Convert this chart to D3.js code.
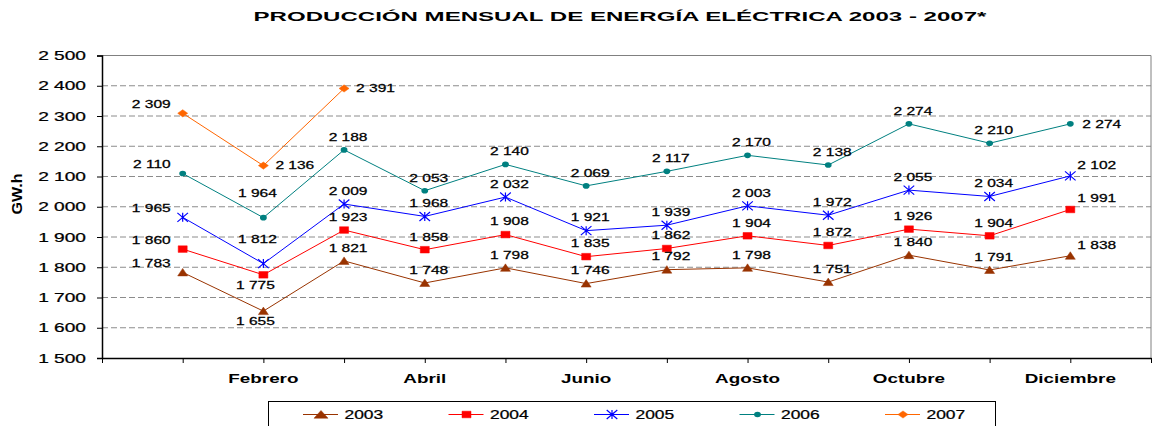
<!DOCTYPE html>
<html>
<head>
<meta charset="utf-8">
<script src="https://cdn.jsdelivr.net/npm/d3@7"></script>
<style>
  body { margin: 0; background: #fff; }
  text { font-family: "Liberation Sans", Arial, sans-serif; fill: #000; }
  text.heavy { stroke: #000; stroke-width: 0.25; }
</style>
</head>
<body>
<div id="canvas"></div>
<script>
(function (d3) {
  'use strict';

  // data
  const months = ['Enero', 'Febrero', 'Marzo', 'Abril', 'Mayo', 'Junio',
    'Julio', 'Agosto', 'Septiembre', 'Octubre', 'Noviembre', 'Diciembre'];
  const years = ['2003', '2004', '2005', '2006', '2007'];
  const v2003 = [1783, 1655, 1821, 1748, 1798, 1746, 1792, 1798, 1751, 1840, 1791, 1838];
  const v2004 = [1860, 1775, 1923, 1858, 1908, 1835, 1862, 1904, 1872, 1926, 1904, 1991];
  const v2005 = [1965, 1812, 2009, 1968, 2032, 1921, 1939, 2003, 1972, 2055, 2034, 2102];
  const v2006 = [2110, 1964, 2188, 2053, 2140, 2069, 2117, 2170, 2138, 2274, 2210, 2274];
  const v2007 = [2309, 2136, 2391];
  const yTicks = [1500, 1600, 1700, 1800, 1900, 2000, 2100, 2200, 2300, 2400, 2500];
  const xLabelMonths = ['Febrero', 'Abril', 'Junio', 'Agosto', 'Octubre', 'Diciembre'];
  const title = 'PRODUCCIÓN MENSUAL DE ENERGÍA ELÉCTRICA 2003 - 2007*';
  const yTitle = 'GW.h';

  const seriesValues = [v2003, v2004, v2005, v2006, v2007];
  const colors = ['#993300', '#FF0000', '#0000FF', '#008080', '#FF6600'];
  const shapes = ['triangle', 'square', 'star', 'circle', 'diamond'];

  const width = 1152;
  const height = 426;
  const left = 102, right = 1151, top = 55.5, bottom = 358;

  const svg = d3.select('#canvas')
    .append('svg')
    .attr('width', width)
    .attr('height', height);

  const fmt = d3.formatLocale({ decimal: ',', thousands: ' ', grouping: [3], currency: ['', ''] }).format(',d');

  // category axis has an empty slot before January and after December
  const x = d3.scalePoint()
    .domain(['', ...months, ' '])
    .range([left, right]);

  const y = d3.scaleLinear()
    .domain([1500, 2500])
    .range([bottom, top]);

  // text stretched horizontally like the original picture
  const sText = (g, tx, ty, str, size, sx, anchor, weight) =>
    g.append('text')
      .attr('class', weight ? null : 'heavy')
      .attr('transform', `translate(${tx},${ty}) scale(${sx},1)`)
      .attr('text-anchor', anchor)
      .style('font-size', size + 'px')
      .style('font-weight', weight || 'normal')
      .text(str);

  const markerPath = (shape, big) => {
    if (shape === 'triangle') return big ? 'M0,-4L7,3.7L-7,3.7Z' : 'M0,-4L5,3.5L-5,3.5Z';
    if (shape === 'square') return 'M-4.5,-3.3H4.5V3.3H-4.5Z';
    if (shape === 'diamond') return 'M0,-3.6L5,0L0,3.6L-5,0Z';
    if (shape === 'star') return 'M-5.3,-4.5L5.3,4.5M-5.3,4.5L5.3,-4.5M0,-4.5V4.5';
    return null;
  };

  const drawMarker = (g, shape, color, px, py, big) => {
    if (shape === 'circle') {
      g.append('ellipse')
        .attr('cx', px).attr('cy', py)
        .attr('rx', 3.4).attr('ry', 2.8)
        .attr('fill', color);
    } else {
      g.append('path')
        .attr('transform', `translate(${px},${py})`)
        .attr('d', markerPath(shape, big))
        .attr('fill', shape === 'star' ? 'none' : color)
        .attr('stroke', color)
        .attr('stroke-width', shape === 'star' ? 1.2 : 0.5);
    }
  };

  // title
  sText(svg, 620, 21, title, 12.8, 1.88, 'middle', 'bold');

  // y axis title
  svg.append('text')
    .attr('transform', 'translate(22,194) rotate(-90) scale(1.15,1)')
    .attr('text-anchor', 'middle')
    .style('font-size', '14px')
    .style('font-weight', 'bold')
    .text(yTitle);

  // gridlines
  svg.append('g')
    .selectAll('line')
    .data(yTicks.slice(1, -1))
    .enter()
    .append('line')
    .attr('x1', left).attr('x2', right)
    .attr('y1', (d) => y(d)).attr('y2', (d) => y(d))
    .attr('stroke', '#8c8c8c')
    .attr('stroke-dasharray', '6,3');

  // plot frame (top and right)
  svg.append('path')
    .attr('d', `M${left},${y(2500)}H${right}V${bottom}`)
    .attr('fill', 'none')
    .attr('stroke', '#808080');

  // y axis
  const yAxis = svg.append('g')
    .attr('transform', `translate(${left},0)`)
    .call(d3.axisLeft(y).tickValues(yTicks).tickSize(5).tickFormat(''));
  yAxis.select('.domain').attr('stroke', '#000').attr('stroke-width', 1.5);
  yAxis.selectAll('.tick line').attr('stroke', '#000');
  yTicks.forEach((t) => sText(svg, 86, y(t) + 4.5, fmt(t), 12.5, 1.53, 'end'));

  // x axis
  const xAxis = svg.append('g')
    .attr('transform', `translate(0,${bottom})`)
    .call(d3.axisBottom(x).tickSize(5).tickSizeOuter(0).tickFormat(''));
  xAxis.select('.domain').attr('stroke', '#000').attr('stroke-width', 1.5);
  xAxis.selectAll('.tick line').attr('stroke', '#000');
  xLabelMonths.forEach((m) => sText(svg, x(m), 383, m, 13, 1.45, 'middle', 'bold'));

  // series
  const line = d3.line()
    .x((d, i) => x(months[i]))
    .y((d) => y(d));

  const labelPlace = (year, i, px, py) => {
    if (i === 0) return { x: px - 12, y: py - 9, anchor: 'end' };
    if (year === '2007' || (year === '2006' && i === 11)) return { x: px + 12, y: py, anchor: 'start' };
    if (i === 11) return { x: px + 7, y: py - 11, anchor: 'start' };
    if (i === 1 && (year === '2003' || year === '2004')) return { x: px - 8, y: py + 10, anchor: 'middle' };
    if (i === 1) return { x: px - 6, y: py - 24, anchor: 'middle' };
    return { x: px + 4, y: py - 13, anchor: 'middle' };
  };

  const plot = svg.append('g');
  const labels = svg.append('g');

  years.forEach((year, k) => {
    const vals = seriesValues[k];
    const g = plot.append('g');
    g.append('path')
      .attr('d', line(vals))
      .attr('fill', 'none')
      .attr('stroke', colors[k])
      .attr('stroke-width', 1);

    vals.forEach((v, i) => {
      const px = x(months[i]);
      const py = y(v);
      drawMarker(g, shapes[k], colors[k], px, py, false);
      const p = labelPlace(year, i, px, py);
      sText(labels, p.x, p.y + 3.8, fmt(v), 10.5, 1.48, p.anchor);
    });
  });

  // legend
  const legend = svg.append('g');
  legend.append('rect')
    .attr('x', 268.5).attr('y', 401.5)
    .attr('width', 727).attr('height', 40)
    .attr('fill', '#fff')
    .attr('stroke', '#000');

  years.forEach((year, k) => {
    const lx = 303 + k * 145.5;
    const ly = 414.5;
    legend.append('line')
      .attr('x1', lx).attr('x2', lx + 35)
      .attr('y1', ly).attr('y2', ly)
      .attr('stroke', colors[k]);
    drawMarker(legend, shapes[k], colors[k], lx + 18, ly, true);
    sText(legend, lx + 41.5, 418.7, year, 13, 1.34, 'start');
  });

}(d3));
</script>
</body>
</html>
